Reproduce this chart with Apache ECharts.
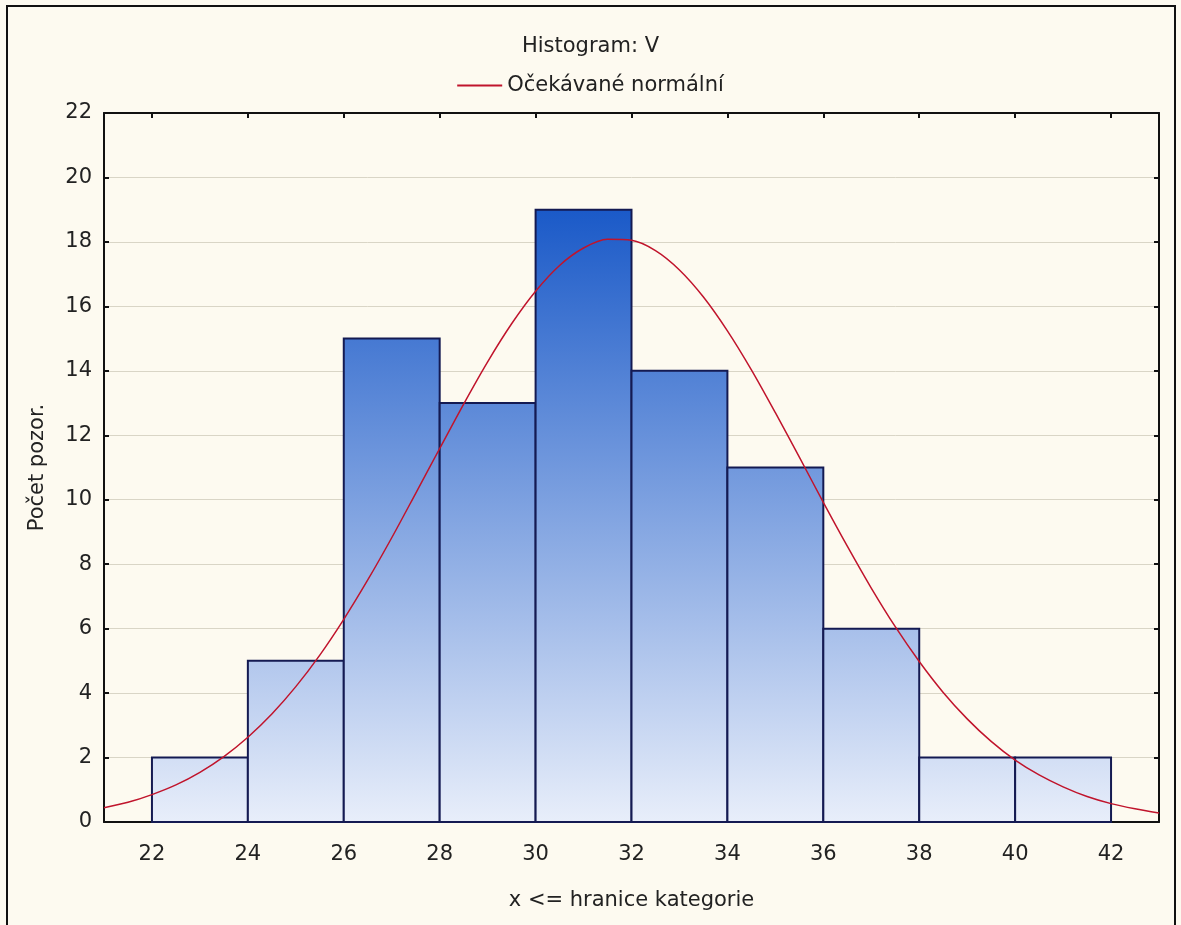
<!DOCTYPE html>
<html>
<head>
<meta charset="utf-8">
<style>
  html, body { margin: 0; padding: 0; background: #fdfaf0; }
  #chart { width: 1181px; height: 925px; }
</style>
<script src="https://cdn.jsdelivr.net/npm/echarts@6/dist/echarts.min.js"></script>
</head>
<body>
<div id="chart"></div>
<script>
// Histogram bins (x <= upper bound) and observed counts
const binLower = [22, 24, 26, 28, 30, 32, 34, 36, 38, 40];
const binUpper = [24, 26, 28, 30, 32, 34, 36, 38, 40, 42];
const counts   = [2, 5, 15, 13, 19, 14, 11, 6, 2, 2];

// Expected normal curve, sampled every half unit of x
const curveX = [21, 21.5, 22, 22.5, 23, 23.5, 24, 24.5, 25, 25.5, 26, 26.5, 27, 27.5, 28, 28.5,
                29, 29.5, 30, 30.5, 31, 31.5, 32, 32.5, 33, 33.5, 34, 34.5, 35, 35.5, 36, 36.5,
                37, 37.5, 38, 38.5, 39, 39.5, 40, 40.5, 41, 41.5, 42, 42.5, 43];
const curveY = [0.44, 0.61, 0.85, 1.15, 1.54, 2.03, 2.63, 3.35, 4.2, 5.18, 6.29, 7.51, 8.82, 10.2, 11.59, 12.97,
                14.28, 15.46, 16.47, 17.27, 17.81, 18.08, 18.05, 17.73, 17.13, 16.29, 15.24, 14.03, 12.7, 11.32, 9.92, 8.56,
                7.26, 6.06, 4.98, 4.02, 3.2, 2.5, 1.92, 1.46, 1.09, 0.79, 0.57, 0.41, 0.28];

const xTicks = [22, 24, 26, 28, 30, 32, 34, 36, 38, 40, 42];

const FONT = '"DejaVu Sans", Verdana, sans-serif';
const TXT = '#222222';
const FS = 21;
const CURVE = '#c0142c';

const chart = echarts.init(document.getElementById('chart'), null, { renderer: 'canvas' });

const histData = binLower.map((lo, i) => [lo, binUpper[i], counts[i]]);
const curveData = curveX.map((x, i) => [x, curveY[i]]);

// Bar fill: one vertical gradient shared by all bars, tied to plot height
const barFill = new echarts.graphic.LinearGradient(0, 211, 0, 822, [
  { offset: 0, color: '#1b5ac8' },
  { offset: 1, color: '#e8eefa' }
], true);

const option = {
  backgroundColor: '#fdfaf0',
  animation: false,
  title: {
    text: 'Histogram: V',
    left: 'center',
    top: 31,
    textStyle: { fontFamily: FONT, fontSize: FS, fontWeight: 'normal', color: TXT }
  },
  legend: {
    top: 70,
    left: 'center',
    itemWidth: 45,
    itemHeight: 20,
    itemGap: 10,
    textStyle: { fontFamily: FONT, fontSize: FS, color: TXT },
    data: [{
      name: 'Očekávané normální',
      icon: 'path://M0,9 L45,9 L45,11 L0,11 Z',
      itemStyle: { color: CURVE }
    }]
  },
  grid: { left: 104, right: 22, top: 113, bottom: 103 },
  xAxis: [{
    type: 'value',
    min: 21,
    max: 43,
    name: 'x <= hranice kategorie',
    nameLocation: 'middle',
    nameGap: 68,
    nameTextStyle: { fontFamily: FONT, fontSize: FS, color: TXT },
    axisLine: { show: true, onZero: false, lineStyle: { color: '#111', width: 2 } },
    axisTick: { show: true, inside: true, length: 5, customValues: xTicks, lineStyle: { color: '#111', width: 2 } },
    axisLabel: { customValues: xTicks, margin: 22, fontFamily: FONT, fontSize: FS, color: TXT },
    splitLine: { show: false }
  }, {
    type: 'value',
    position: 'top',
    min: 21,
    max: 43,
    axisLine: { show: true, onZero: false, lineStyle: { color: '#111', width: 2 } },
    axisTick: { show: true, inside: true, length: 5, customValues: xTicks, lineStyle: { color: '#111', width: 2 } },
    axisLabel: { show: false },
    splitLine: { show: false }
  }],
  yAxis: [{
    type: 'value',
    min: 0,
    max: 22,
    interval: 2,
    name: 'Počet pozor.',
    nameLocation: 'middle',
    nameGap: 56,
    nameTextStyle: { fontFamily: FONT, fontSize: FS, color: TXT },
    axisLine: { show: true, onZero: false, lineStyle: { color: '#111', width: 2 } },
    axisTick: { show: true, inside: true, length: 5, lineStyle: { color: '#111', width: 2 } },
    axisLabel: { margin: 12, fontFamily: FONT, fontSize: FS, color: TXT },
    splitLine: { show: true, lineStyle: { color: '#d9d5c6', width: 1 } }
  }, {
    type: 'value',
    position: 'right',
    min: 0,
    max: 22,
    interval: 2,
    axisLine: { show: true, onZero: false, lineStyle: { color: '#111', width: 2 } },
    axisTick: { show: true, inside: true, length: 5, lineStyle: { color: '#111', width: 2 } },
    axisLabel: { show: false },
    splitLine: { show: false }
  }],
  series: [{
    name: 'Histogram',
    type: 'custom',
    xAxisIndex: 0,
    yAxisIndex: 0,
    data: histData,
    encode: { x: [0, 1], y: 2 },
    renderItem: function (params, api) {
      const topLeft = api.coord([api.value(0), api.value(2)]);
      const bottomRight = api.coord([api.value(1), 0]);
      return {
        type: 'rect',
        shape: {
          x: topLeft[0],
          y: topLeft[1],
          width: bottomRight[0] - topLeft[0],
          height: bottomRight[1] - topLeft[1]
        },
        style: { fill: barFill, stroke: '#141a52', lineWidth: 2 }
      };
    },
    z: 2
  }, {
    name: 'Očekávané normální',
    type: 'line',
    xAxisIndex: 0,
    yAxisIndex: 0,
    data: curveData,
    smooth: 0.3,
    showSymbol: false,
    symbol: 'none',
    itemStyle: { color: CURVE },
    lineStyle: { color: CURVE, width: 1.5 },
    z: 3
  }],
  graphic: [{
    type: 'rect',
    shape: { x: 7, y: 6, width: 1168, height: 930 },
    style: { fill: 'none', stroke: '#111', lineWidth: 2 },
    silent: true,
    z: 10
  }]
};

chart.setOption(option);
</script>
</body>
</html>
